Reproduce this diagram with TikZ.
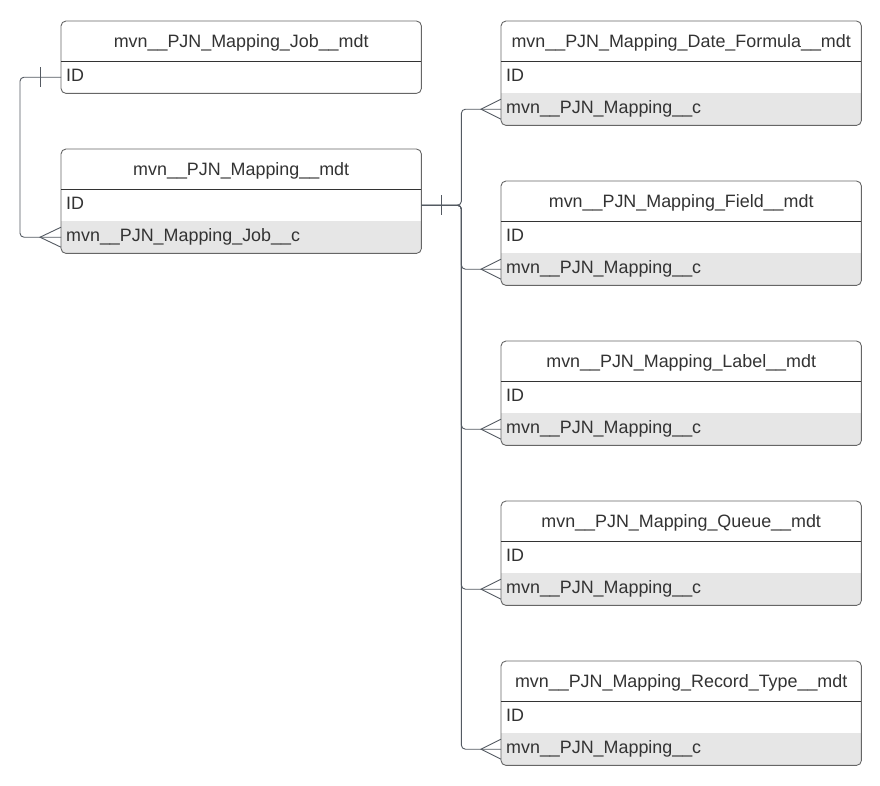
\documentclass[tikz,border=0pt]{standalone}
\usepackage{fontspec}
\setmainfont{Liberation Sans}
\usetikzlibrary{calc}
\definecolor{txt}{HTML}{333333}
\definecolor{bord}{HTML}{666666}
\definecolor{divl}{HTML}{333333}
\definecolor{rowgray}{HTML}{E6E6E6}
\definecolor{lnk}{HTML}{545A62}
\tikzset{
  hdr/.style={minimum width=360pt, minimum height=40pt, inner sep=0pt, anchor=north west, text=txt, text height=13pt, text depth=0pt, font=\fontsize{17.9}{20}\selectfont},
  fld/.style={minimum width=360pt, minimum height=32pt, inner xsep=5pt, inner ysep=0pt, anchor=north west, text=txt, align=left, text width=350pt, text height=13pt, text depth=5pt, font=\fontsize{17.9}{20}\selectfont},
  tabframe/.style={draw=bord, line width=0.9pt, rounded corners=5pt},
  hdrline/.style={draw=divl, line width=0.9pt},
  conn/.style={draw=lnk, line width=0.9pt},
}
% one-row table: name, x, y, header, row
\newcommand\ertabone[5]{%
  \node[hdr] (#1h) at (#2,#3) {#4};
  \node[fld] (#1a) at (#2,#3+40) {#5};
  \draw[tabframe] (#1h.north west) rectangle (#1a.south east);
  \draw[hdrline] (#1h.south west) -- (#1h.south east);
}
% two-row table: name, x, y, header, row1, row2 (gray)
\newcommand\ertabtwo[6]{%
  \begin{scope}
    \clip[rounded corners=5pt] (#2,#3) rectangle ++(360,104);
    \fill[rowgray] (#2,#3+72) rectangle ++(360,32);
  \end{scope}
  \node[hdr] (#1h) at (#2,#3) {#4};
  \node[fld] (#1a) at (#2,#3+40) {#5};
  \node[fld] (#1b) at (#2,#3+72) {#6};
  \draw[tabframe] (#1h.north west) rectangle (#1b.south east);
  \draw[hdrline] (#1h.south west) -- (#1h.south east);
}
\begin{document}
\begin{tikzpicture}[x=1pt,y=-1pt]
\useasboundingbox[fill=white] (0,0) rectangle (880,785);

\ertabone{job}{61}{21}{mvn\_\_PJN\_Mapping\_Job\_\_mdt}{ID}
\ertabtwo{map}{61}{149}{mvn\_\_PJN\_Mapping\_\_mdt}{ID}{mvn\_\_PJN\_Mapping\_Job\_\_c}

\ertabtwo{dfm}{501}{21}{mvn\_\_PJN\_Mapping\_Date\_Formula\_\_mdt}{ID}{mvn\_\_PJN\_Mapping\_\_c}
\ertabtwo{fld}{501}{181}{mvn\_\_PJN\_Mapping\_Field\_\_mdt}{ID}{mvn\_\_PJN\_Mapping\_\_c}
\ertabtwo{lbl}{501}{341}{mvn\_\_PJN\_Mapping\_Label\_\_mdt}{ID}{mvn\_\_PJN\_Mapping\_\_c}
\ertabtwo{que}{501}{501}{mvn\_\_PJN\_Mapping\_Queue\_\_mdt}{ID}{mvn\_\_PJN\_Mapping\_\_c}
\ertabtwo{rec}{501}{661}{mvn\_\_PJN\_Mapping\_Record\_Type\_\_mdt}{ID}{mvn\_\_PJN\_Mapping\_\_c}

% Job -> Mapping
\draw[conn, rounded corners=4pt] (joba.west) -- ++(-41,0) |- (mapb.west);
\draw[conn] ([xshift=-21pt,yshift=10pt]joba.west) -- ([xshift=-21pt,yshift=-10pt]joba.west);
\draw[conn] ([yshift=10pt]mapb.west) -- ([xshift=-21pt]mapb.west) -- ([yshift=-10pt]mapb.west);

% Mapping -> children
\draw[conn] ([xshift=20pt,yshift=10pt]mapa.east) -- ([xshift=20pt,yshift=-10pt]mapa.east);
\foreach \t in {dfm,fld,lbl,que,rec}{
  \draw[conn, rounded corners=4pt] (mapa.east) -- ++(40,0) |- (\t b.west);
  \draw[conn] ([yshift=10pt]\t b.west) -- ([xshift=-20pt]\t b.west) -- ([yshift=-10pt]\t b.west);
}
\end{tikzpicture}
\end{document}
